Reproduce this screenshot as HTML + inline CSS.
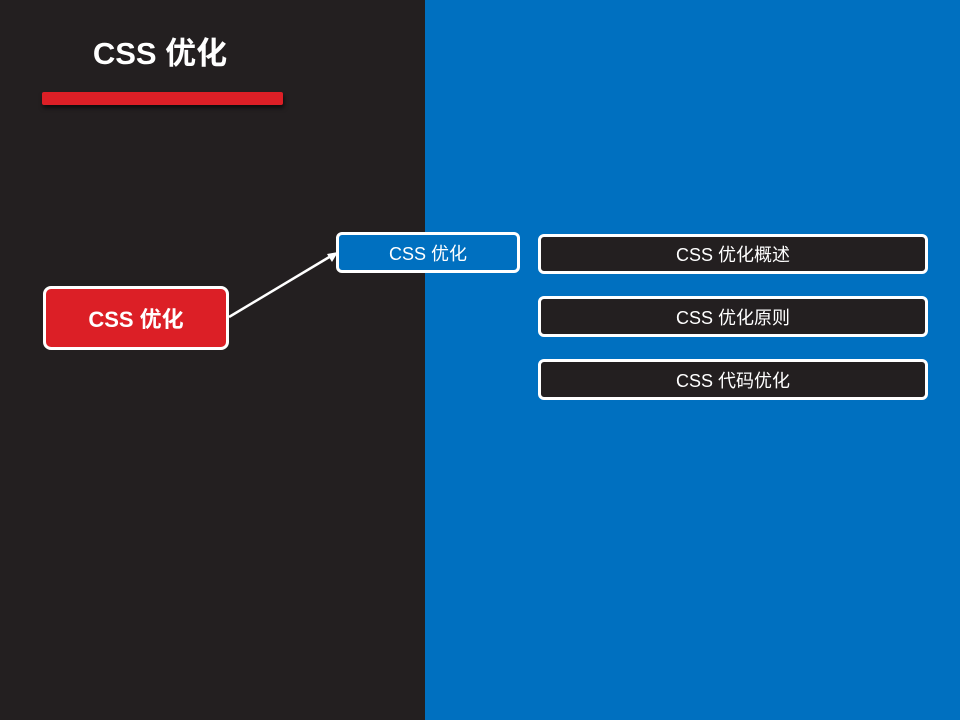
<!DOCTYPE html>
<html><head><meta charset="utf-8"><style>
body{margin:0;width:960px;height:720px;position:relative;overflow:hidden;background:#231f20;font-family:"Liberation Sans","Noto Sans CJK SC",sans-serif;color:#fff}
.b{position:absolute;box-sizing:border-box;border:3px solid #fff;border-radius:6px;display:flex;align-items:center;justify-content:center}
</style></head><body>
<div style="position:absolute;left:425px;top:0;width:535px;height:720px;background:#0070c0"></div>
<div style="position:absolute;left:60px;top:32px;width:200px;text-align:center;font-size:31px;font-weight:bold;line-height:44px">CSS 优化</div>
<div style="position:absolute;left:42px;top:92px;width:241px;height:13px;background:#dc1f26;border-radius:2px;box-shadow:1px 3px 4px rgba(0,0,0,.6)"></div>
<div class="b" style="left:43px;top:286px;width:186px;height:64px;background:#dc1f26;border-radius:8px;font-size:22px;font-weight:bold">CSS 优化</div>
<div class="b" style="left:336px;top:232px;width:184px;height:41px;background:#0070c0;font-size:18px">CSS 优化</div>
<div class="b" style="left:538px;top:234px;width:390px;height:40px;font-size:18px;background:#231f20">CSS 优化概述</div>
<div class="b" style="left:538px;top:296px;width:390px;height:41px;font-size:18px;background:#231f20">CSS 优化原则</div>
<div class="b" style="left:538px;top:359px;width:390px;height:41px;font-size:18px;background:#231f20">CSS 代码优化</div>
<svg style="position:absolute;left:0;top:0" width="960" height="720">
<line x1="229" y1="317" x2="331" y2="256" stroke="#fff" stroke-width="2.5"/>
<polygon points="338,252 327,254 332,262" fill="#fff"/>
</svg>
</body></html>
